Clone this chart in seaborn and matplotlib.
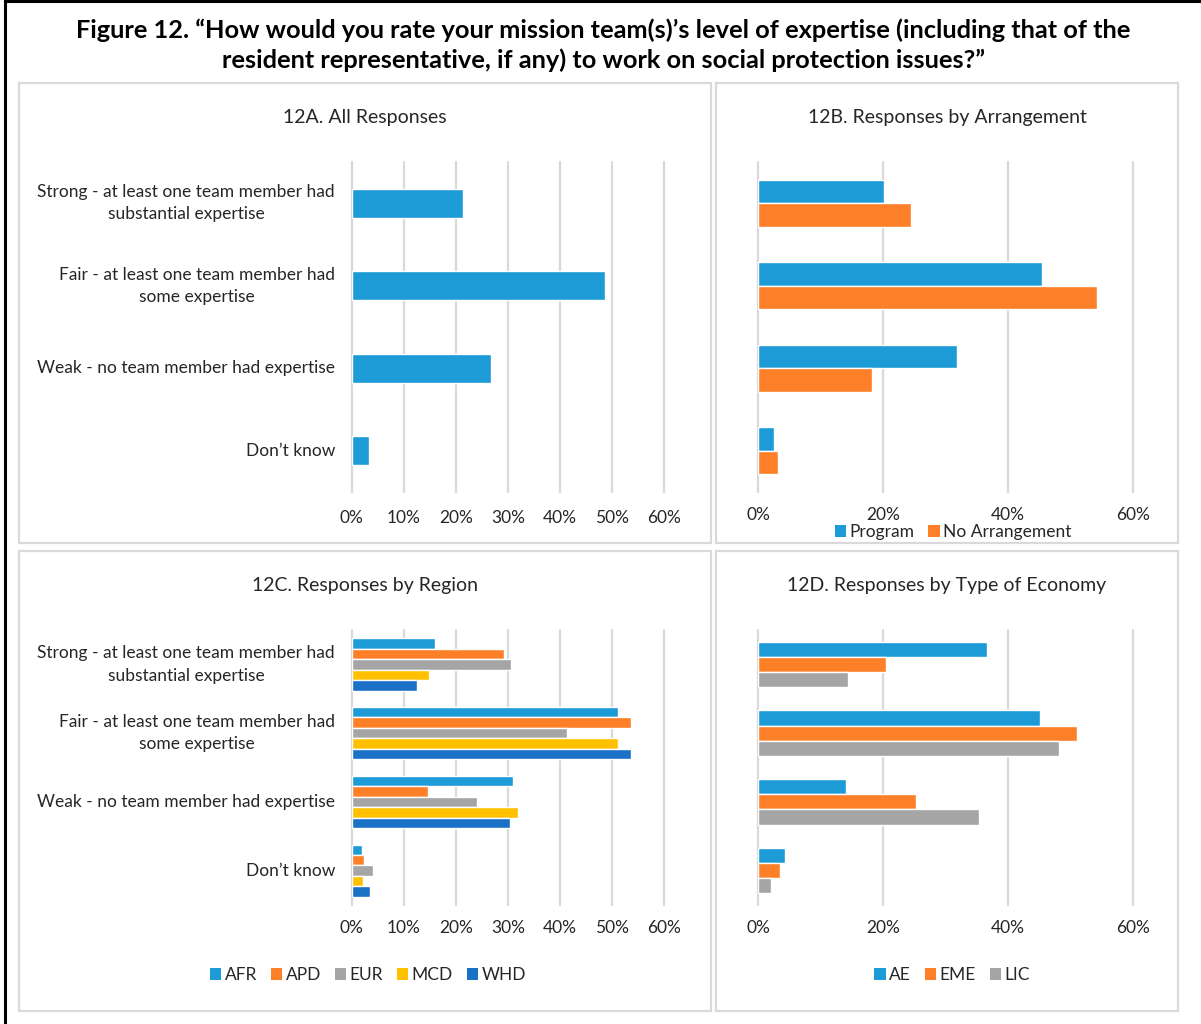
import numpy as np
import pandas as pd
import matplotlib
matplotlib.use("Agg")
import matplotlib.pyplot as plt
import seaborn as sns
from matplotlib.patches import Rectangle
from matplotlib.lines import Line2D

# ---- data (percent of responses) ----
responses = [
    "Strong - at least one team member had\nsubstantial expertise",
    "Fair - at least one team member had\nsome expertise",
    "Weak - no team member had expertise",
    "Don\u2019t know",
]

all_responses = [21.4, 48.7, 26.7, 3.3]

arrangements = ["Program", "No Arrangement"]
program = [20.1, 45.5, 31.8, 2.5]
no_arrangement = [24.4, 54.3, 18.2, 3.2]

regions = ["AFR", "APD", "EUR", "MCD", "WHD"]
afr = [16.0, 51.1, 31.0, 2.0]
apd = [29.3, 53.7, 14.6, 2.4]
eur = [30.6, 41.4, 24.0, 4.1]
mcd = [14.9, 51.1, 31.9, 2.1]
whd = [12.5, 53.6, 30.4, 3.6]

economies = ["AE", "EME", "LIC"]
ae = [36.6, 45.1, 14.1, 4.2]
eme = [20.4, 51.0, 25.2, 3.4]
lic = [14.4, 48.2, 35.3, 2.1]

# ---- style ----
BLUE = "#1D9BD7"
ORANGE = "#FD7F28"
GRAY = "#A5A5A5"
YELLOW = "#FFC000"
DARKBLUE = "#1A71C6"
GRID = "#D9D9D9"
TEXT = "#262626"
FS = 12.5

sns.set_theme(style="white")
plt.rcParams["font.family"] = ["Lato", "DejaVu Sans"]
plt.rcParams["text.color"] = TEXT
plt.rcParams["xtick.color"] = TEXT
plt.rcParams["ytick.color"] = TEXT

W, H = 1201, 1024
fig = plt.figure(figsize=(W / 100, H / 100), dpi=100)


def px_axes(x0, y0, x1, y1):
    return fig.add_axes([x0 / W, 1 - y1 / H, (x1 - x0) / W, (y1 - y0) / H])


def long_form(names, columns):
    rows = []
    for name, vals in zip(names, columns):
        for resp, v in zip(responses, vals):
            rows.append({"response": resp, "series": name, "value": v})
    return pd.DataFrame(rows)


def style_axis(ax, step, xmax, show_labels, pad_x):
    ax.set_xlim(0, xmax)
    ticks = np.arange(0, 61, step)
    ax.set_xticks(ticks)
    ax.set_xticklabels([f"{t}%" for t in ticks], fontsize=FS)
    ax.grid(axis="x", color=GRID, lw=1.6)
    ax.grid(axis="y", visible=False)
    ax.set_axisbelow(True)
    for line in ax.get_xgridlines():
        line.set_clip_on(False)
    for s in ax.spines.values():
        s.set_visible(False)
    ax.tick_params(length=0, axis="x", pad=pad_x)
    ax.tick_params(length=0, axis="y", pad=12)
    ax.set_xlabel("")
    ax.set_ylabel("")
    if show_labels:
        for lab in ax.get_yticklabels():
            lab.set_fontsize(FS)
            lab.set_multialignment("center")
            lab.set_verticalalignment("center")
            lab.set_linespacing(1.5)
    else:
        ax.tick_params(axis="y", labelleft=False)


def legend(handles_colors, labels, cx, cy):
    handles = [Rectangle((0, 0), 1, 1, facecolor=c, edgecolor="none") for c in handles_colors]
    fig.legend(handles, labels, loc="center", bbox_to_anchor=(cx / W, 1 - cy / H),
               ncol=len(labels), frameon=False, fontsize=FS, handlelength=0.65,
               handleheight=0.65, handletextpad=0.2, columnspacing=0.8,
               borderpad=0, borderaxespad=0)


# ---- panel frames and outer border ----
for (x0, y0, x1, y1) in [(19, 83, 711, 543), (716, 83, 1178, 543),
                         (19, 551, 711, 1011), (716, 551, 1178, 1011)]:
    fig.patches.append(Rectangle((x0 / W, 1 - y1 / H), (x1 - x0) / W, (y1 - y0) / H,
                                 transform=fig.transFigure, facecolor="none",
                                 edgecolor=GRID, lw=1.6))
fig.lines.append(Line2D([4.5 / W, 4.5 / W], [0, 1], transform=fig.transFigure,
                        color="black", lw=2.2))
fig.lines.append(Line2D([4.5 / W, 1], [1 - 1 / H, 1 - 1 / H], transform=fig.transFigure,
                        color="black", lw=2.2))

# ---- title ----
fig.text(603 / W, 1 - 45 / H,
         "Figure 12. \u201cHow would you rate your mission team(s)\u2019s level of expertise (including that of the\n"
         "resident representative, if any) to work on social protection issues?\u201d",
         ha="center", va="center", fontsize=18.3, fontweight="bold", color="black",
         linespacing=1.35)

# scale: 10% = 52.1 px in left panels, 20% = 124.8 px in right panels
XMAX = 62

# ---- 12A ----
axA = px_axes(351.7, 162, 351.7 + XMAX * 5.21, 492)
sns.barplot(x=all_responses, y=responses, color=BLUE, saturation=1, width=0.35,
            orient="h", ax=axA)
style_axis(axA, 10, XMAX, True, 13)
fig.text(365 / W, 1 - 117 / H, "12A. All Responses", ha="center", va="center", fontsize=14)

# ---- 12B ----
axB = px_axes(758.3, 162, 758.3 + XMAX * 6.24, 492)
dfB = long_form(arrangements, [program, no_arrangement])
sns.barplot(data=dfB, x="value", y="response", hue="series", order=responses,
            hue_order=arrangements, palette=[BLUE, ORANGE], saturation=1, width=0.567,
            orient="h", ax=axB, legend=False)
style_axis(axB, 20, XMAX, False, 11)
fig.text(947 / W, 1 - 117 / H, "12B. Responses by Arrangement", ha="center", va="center", fontsize=14)
legend([BLUE, ORANGE], arrangements, 953, 532)

# ---- 12C ----
axC = px_axes(351.7, 630, 351.7 + XMAX * 5.21, 905)
dfC = long_form(regions, [afr, apd, eur, mcd, whd])
sns.barplot(data=dfC, x="value", y="response", hue="series", order=responses,
            hue_order=regions, palette=[BLUE, ORANGE, GRAY, YELLOW, DARKBLUE], saturation=1,
            width=0.76, orient="h", ax=axC, legend=False)
style_axis(axC, 10, XMAX, True, 11)
fig.text(365 / W, 1 - 585 / H, "12C. Responses by Region", ha="center", va="center", fontsize=14)
legend([BLUE, ORANGE, GRAY, YELLOW, DARKBLUE], regions, 368, 975)

# ---- 12D ----
axD = px_axes(758.3, 630, 758.3 + XMAX * 6.24, 905)
dfD = long_form(economies, [ae, eme, lic])
sns.barplot(data=dfD, x="value", y="response", hue="series", order=responses,
            hue_order=economies, palette=[BLUE, ORANGE, GRAY], saturation=1, width=0.665,
            orient="h", ax=axD, legend=False)
style_axis(axD, 20, XMAX, False, 11)
fig.text(947 / W, 1 - 585 / H, "12D. Responses by Type of Economy", ha="center", va="center", fontsize=14)
legend([BLUE, ORANGE, GRAY], economies, 952, 975)

fig.savefig("out.png", dpi=100, facecolor="white")
